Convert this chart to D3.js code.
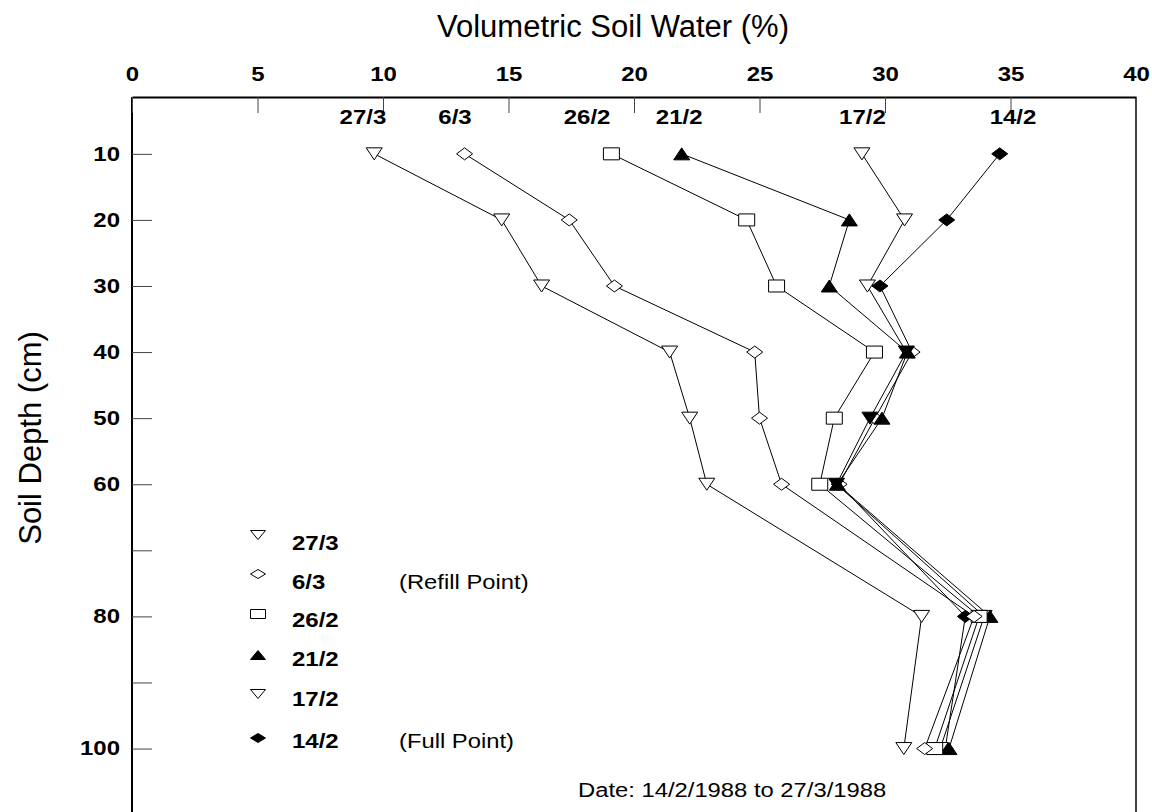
<!DOCTYPE html>
<html>
<head>
<meta charset="utf-8">
<script src="https://cdn.jsdelivr.net/npm/d3@7"></script>
<style>
  html, body { margin: 0; padding: 0; background: #fff; }
  svg { display: block; }
  text { font-family: "Liberation Sans", Arial, sans-serif; fill: #000; }
</style>
</head>
<body>
<svg id="chart" width="1152" height="812"></svg>
<script>
// ---------------- DATA ----------------
const depths = [10, 20, 30, 40, 50, 60, 80, 100];           // cm
const seriesNames = ["27/3", "6/3", "26/2", "21/2", "17/2", "14/2"];
const water_27_3 = [9.65, 14.73, 16.32, 21.42, 22.22, 22.90, 31.46, 30.75];
const water_6_3  = [13.25, 17.42, 19.22, 24.81, 25.00, 25.88, 33.55, 31.58];
const water_26_2 = [19.10, 24.49, 25.68, 29.58, 27.98, 27.40, 33.75, 31.98];
const water_21_2 = [21.90, 28.58, 27.78, 30.89, 29.88, 28.10, 34.18, 32.55];
const water_17_2 = [29.08, 30.78, 29.30, 30.85, 29.40, 28.07, 33.95, 32.20];
const water_14_2 = [34.57, 32.46, 29.80, 31.08, 29.60, 28.17, 33.20, 32.40];
const headerLabelAt = [9.2, 12.87, 18.13, 21.8, 29.1, 35.1];  // water % under which each date label sits
const xTicks = [0, 5, 10, 15, 20, 25, 30, 35, 40];
const yTicks = [10, 20, 30, 40, 50, 60, 70, 80, 90, 100];
const yLabelled = [10, 20, 30, 40, 50, 60, 80, 100];
const legendNotes = ["", "(Refill Point)", "", "", "", "(Full Point)"];
const titleX = "Volumetric Soil Water (%)";
const titleY = "Soil Depth (cm)";
const footnote = "Date: 14/2/1988 to 27/3/1988";

const seriesValues = [water_27_3, water_6_3, water_26_2, water_21_2, water_17_2, water_14_2];
const series = seriesNames.map((name, i) => ({
  name,
  points: depths.map((d, j) => ({ depth: d, water: seriesValues[i][j] }))
}));

// ---------------- STYLE ----------------
const symbolOf = { "27/3": "down", "6/3": "diamond", "26/2": "square", "21/2": "up", "17/2": "down", "14/2": "diamond" };
const filledOf = {
  "27/3": () => false,
  "6/3": () => false,
  "26/2": () => false,
  "21/2": () => true,
  "17/2": p => p.depth >= 40 && p.depth <= 60,
  "14/2": p => !(p.depth >= 40 && p.depth <= 60)
};
function symPath(type, w, h) {
  const a = w / 2, b = h / 2;
  switch (type) {
    case "down": return `M${-a},${-b}L${a},${-b}L0,${b}Z`;
    case "up": return `M${-a},${b}L${a},${b}L0,${-b}Z`;
    case "diamond": return `M${-a},0L0,${-b}L${a},0L0,${b}Z`;
    case "square": return `M${-a},${-b}H${a}V${b}H${-a}Z`;
  }
}
function stretch(sel, k) {
  sel.each(function () {
    const w = this.getComputedTextLength();
    this.setAttribute("textLength", w * k);
    this.setAttribute("lengthAdjust", "spacingAndGlyphs");
  });
}

// ---------------- LAYOUT ----------------
const plot = { left: 132, right: 1136, top: 97, bottom: 812 };
const x = d3.scaleLinear().domain([0, 40]).range([plot.left, plot.right]);
const y = d3.scaleLinear().domain([1.4, 109.6]).range([plot.top, plot.bottom]);

const svg = d3.select("#chart");

// frame
svg.append("line").attr("x1", plot.left).attr("x2", plot.left).attr("y1", plot.top).attr("y2", plot.bottom)
  .attr("stroke", "#000").attr("stroke-width", 2);
svg.append("line").attr("x1", plot.right).attr("x2", plot.right).attr("y1", plot.top).attr("y2", plot.bottom)
  .attr("stroke", "#000").attr("stroke-width", 1.5);

// top axis
const gx = svg.append("g").attr("transform", `translate(0,${plot.top})`)
  .call(d3.axisTop(x).tickValues(xTicks).tickSizeInner(-16).tickSizeOuter(0).tickPadding(16));
gx.select(".domain").attr("stroke", "#000").attr("stroke-width", 2);
gx.selectAll(".tick line").attr("stroke", "#444").attr("stroke-width", 1);
gx.selectAll(".tick text").attr("font-size", 20).attr("font-weight", "bold")
  .attr("font-family", "'Liberation Sans', Arial, sans-serif").call(stretch, 1.2);

// left axis
const gy = svg.append("g").attr("transform", `translate(${plot.left},0)`)
  .call(d3.axisLeft(y).tickValues(yTicks).tickSizeInner(-20).tickSizeOuter(0).tickPadding(12)
    .tickFormat(d => yLabelled.includes(d) ? d : ""));
gy.select(".domain").remove();
gy.selectAll(".tick line").attr("stroke", "#444").attr("stroke-width", 1);
gy.selectAll(".tick text").attr("font-size", 20).attr("font-weight", "bold")
  .attr("font-family", "'Liberation Sans', Arial, sans-serif").call(stretch, 1.2);

// titles
svg.append("text").attr("x", 613).attr("y", 37).attr("text-anchor", "middle")
  .attr("font-size", 31).text(titleX);
svg.append("text").attr("transform", "translate(41,438) rotate(-90)").attr("text-anchor", "middle")
  .attr("font-size", 31).text(titleY);

// date labels under the top axis
svg.append("g").selectAll("text").data(seriesNames).join("text")
  .attr("x", (d, i) => x(headerLabelAt[i])).attr("y", 124).attr("text-anchor", "middle")
  .attr("font-size", 20).attr("font-weight", "bold").text(d => d).call(stretch, 1.2);

// lines
const line = d3.line().x(p => x(p.water)).y(p => y(p.depth));
const gs = svg.append("g");
gs.selectAll("path.ln").data(series).join("path").attr("class", "ln")
  .attr("d", s => line(s.points)).attr("fill", "none").attr("stroke", "#000").attr("stroke-width", 1);

// markers (earliest date drawn first so later dates sit on top)
series.slice().reverse().forEach(s => {
  gs.append("g").selectAll("path").data(s.points).join("path")
    .attr("transform", p => `translate(${x(p.water)},${y(p.depth)})`)
    .attr("d", symPath(symbolOf[s.name], 16, 12))
    .attr("fill", p => filledOf[s.name](p) ? "#000" : "#fff")
    .attr("stroke", "#000").attr("stroke-width", 1);
});

// legend
const legendRows = [535, 574, 614, 655, 694, 738];
const legendText = [550, 589, 627, 666, 706, 748];
const lg = svg.append("g");
seriesNames.forEach((name, i) => {
  lg.append("path").attr("transform", `translate(258,${legendRows[i]})`)
    .attr("d", symPath(symbolOf[name], 15, 9))
    .attr("fill", (name === "21/2" || name === "14/2") ? "#000" : "#fff")
    .attr("stroke", "#000").attr("stroke-width", 1);
  lg.append("text").attr("x", 292).attr("y", legendText[i]).attr("font-size", 20)
    .attr("font-weight", "bold").text(name).call(stretch, 1.2);
  if (legendNotes[i]) {
    lg.append("text").attr("x", 399).attr("y", legendText[i]).attr("font-size", 19.5)
      .text(legendNotes[i]).call(stretch, 1.22);
  }
});

// footnote
svg.append("text").attr("x", 578).attr("y", 797).attr("font-size", 19.5).text(footnote).call(stretch, 1.22);
</script>
</body>
</html>
